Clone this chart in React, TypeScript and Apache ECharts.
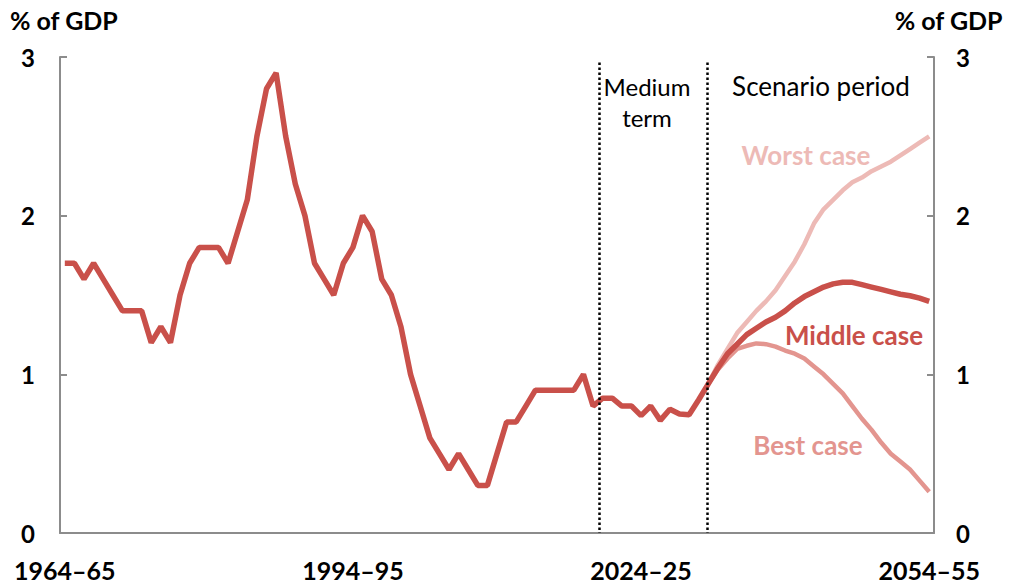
import React, { useEffect, useRef } from "react";
import * as echarts from "echarts";

const FIRST_YEAR = 1964;
const LAST_YEAR = 2054;
const categories: string[] = [];
for (let y = FIRST_YEAR; y <= LAST_YEAR; y++) {
  categories.push(`${y}–${String(y + 1).slice(-2)}`);
}

// Historical + middle case (1964–65 to 2054–55)
const middleCase = [
  1.7, 1.7, 1.6, 1.7, 1.6, 1.5, 1.4, 1.4, 1.4, 1.2,
  1.3, 1.2, 1.5, 1.7, 1.8, 1.8, 1.8, 1.7, 1.9, 2.1,
  2.5, 2.8, 2.9, 2.5, 2.2, 2.0, 1.7, 1.6, 1.5, 1.7,
  1.8, 2.0, 1.9, 1.6, 1.5, 1.3, 1.0, 0.8, 0.6, 0.5,
  0.4, 0.5, 0.4, 0.3, 0.3, 0.5, 0.7, 0.7, 0.8, 0.9,
  0.9, 0.9, 0.9, 0.9, 1.0, 0.8, 0.85, 0.85, 0.8, 0.8,
  0.74, 0.8, 0.71, 0.78, 0.75, 0.745, 0.84, 0.94, 1.04, 1.13,
  1.19, 1.25, 1.29, 1.33, 1.36, 1.4, 1.45, 1.49, 1.52, 1.55,
  1.57, 1.58, 1.58, 1.565, 1.55, 1.535, 1.52, 1.505, 1.495, 1.48, 1.46,
];

// Scenarios start at index 67 (2031–32)
const SCENARIO_START = 67;
const worstCase = [
  0.94, 1.06, 1.16, 1.26, 1.33, 1.4, 1.46, 1.53, 1.62, 1.71, 1.82, 1.95,
  2.04, 2.1, 2.16, 2.21, 2.24, 2.28, 2.31, 2.34, 2.38, 2.42, 2.46, 2.5,
];
const bestCase = [
  0.94, 1.03, 1.1, 1.16, 1.18, 1.195, 1.19, 1.175, 1.15, 1.13, 1.1, 1.05,
  1.0, 0.94, 0.88, 0.8, 0.72, 0.65, 0.57, 0.5, 0.45, 0.4, 0.33, 0.26,
];

const yTicks = [0, 1, 2, 3];
// period dividers, in category-boundary units
const dividers = [56.15, 67.4];

const FONT = "Lato";
const DARK = "#C9504A";
const WORST = "#EDBAB6";
const BEST = "#E3958F";
const AXIS = "#8C8C8C";

const pad = (arr: number[]) =>
  categories.map((_, i) => (i >= SCENARIO_START ? arr[i - SCENARIO_START] : null));

export default function App() {
  const ref = useRef<HTMLDivElement>(null);
  useEffect(() => {
    if (!ref.current) return;
    const chart = echarts.init(ref.current, undefined, { renderer: "svg" });
    const yAxisCommon = (pos: "left" | "right") => ({
      type: "value",
      position: pos,
      min: yTicks[0],
      max: yTicks[yTicks.length - 1],
      interval: 1,
      splitLine: { show: false },
      axisLine: { show: true, lineStyle: { color: AXIS, width: 2 } },
      axisTick: { show: true, inside: true, length: 7, lineStyle: { color: AXIS, width: 2 } },
      axisLabel: {
        margin: pos === "left" ? 25 : 22,
        color: "#000",
        fontFamily: FONT,
        fontWeight: "bold",
        fontSize: 24,
      },
    });
    chart.setOption({
      animation: false,
      grid: { left: 60, right: 79, top: 57, bottom: 52 },
      xAxis: [
        {
          type: "category",
          data: categories,
          boundaryGap: true,
          axisLine: { lineStyle: { color: AXIS, width: 2 } },
          axisTick: { inside: true, length: 7, interval: 4, lineStyle: { color: AXIS, width: 2 } },
          axisLabel: {
            interval: 29,
            margin: 24,
            color: "#000",
            fontFamily: FONT,
            fontWeight: "bold",
            fontSize: 25,
          },
        },
        { type: "value", min: 0, max: categories.length, show: false },
      ],
      yAxis: [yAxisCommon("left"), yAxisCommon("right")],
      series: [
        {
          name: "Worst case",
          type: "line",
          data: pad(worstCase),
          symbol: "none",
          lineStyle: { color: WORST, width: 4.5 },
        },
        {
          name: "Best case",
          type: "line",
          data: pad(bestCase),
          symbol: "none",
          lineStyle: { color: BEST, width: 4.5 },
        },
        {
          name: "Middle case",
          type: "line",
          data: middleCase,
          symbol: "none",
          lineStyle: { color: DARK, width: 5.5 },
        },
        {
          type: "line",
          xAxisIndex: 1,
          yAxisIndex: 0,
          data: [],
          markLine: {
            symbol: "none",
            silent: true,
            label: { show: false },
            lineStyle: { color: "#000", width: 2.5, type: [2.5, 2.5] },
            data: dividers.map((d) => [{ coord: [d, 2.965] }, { coord: [d, 0] }]),
          },
        },
      ],
      graphic: [
        { type: "text", left: 10, top: 7, style: { text: "% of GDP", font: `bold 25px ${FONT}`, fill: "#000" } },
        { type: "text", right: 10, top: 7, style: { text: "% of GDP", font: `bold 25px ${FONT}`, fill: "#000" } },
        { type: "text", x: 647, y: 102, style: { text: "Medium\nterm", font: `24px ${FONT}`, fill: "#000", align: "center", verticalAlign: "middle", lineHeight: 31 } },
        { type: "text", x: 821, y: 86, style: { text: "Scenario period", font: `26px ${FONT}`, fill: "#000", align: "center", verticalAlign: "middle" } },
        { type: "text", x: 806, y: 155, style: { text: "Worst case", font: `bold 26px ${FONT}`, fill: WORST, align: "center", verticalAlign: "middle" } },
        { type: "text", x: 854, y: 335, style: { text: "Middle case", font: `bold 26px ${FONT}`, fill: DARK, align: "center", verticalAlign: "middle" } },
        { type: "text", x: 808, y: 445, style: { text: "Best case", font: `bold 26px ${FONT}`, fill: BEST, align: "center", verticalAlign: "middle" } },
      ],
    });
    return () => chart.dispose();
  }, []);
  return (
    <div
      ref={ref}
      style={{ position: "fixed", left: 0, top: 0, width: 1013, height: 585, background: "#fff" }}
    />
  );
}
